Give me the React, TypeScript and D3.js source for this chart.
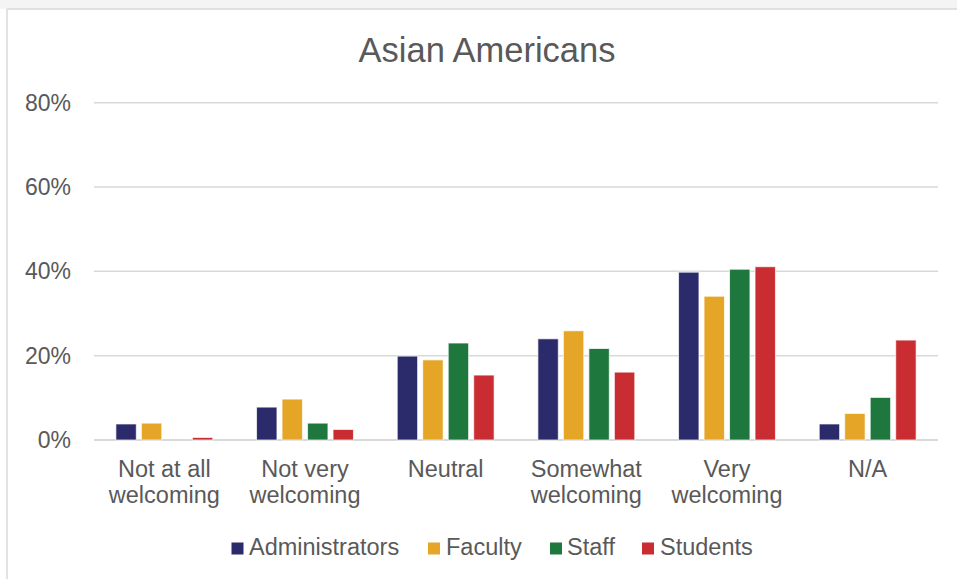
import React from "react";
import * as d3 from "d3";

const categories = ["Not at all|welcoming", "Not very|welcoming", "Neutral", "Somewhat|welcoming", "Very|welcoming", "N/A"];
const seriesNames = ["Administrators", "Faculty", "Staff", "Students"];
const administrators = [3.8, 7.8, 19.9, 24.0, 39.8, 3.8];
const faculty = [4.0, 9.7, 19.0, 25.9, 34.1, 6.3];
const staff = [0, 4.0, 23.0, 21.7, 40.5, 10.1];
const students = [0.6, 2.5, 15.4, 16.1, 41.1, 23.7];
const yTicks = [0, 20, 40, 60, 80];
const title = "Asian Americans";

const colors = ["#2b2a6b", "#e5a526", "#1e773d", "#c92d31"];
const seriesValues = [administrators, faculty, staff, students];

const W = 957;
const H = 579;
const FONT = "'Liberation Sans', Arial, sans-serif";
const TEXT = "#595959";

export default function App() {
  const x0 = d3.scaleBand<string>().domain(categories).range([94, 938]).paddingInner(0.275).paddingOuter(0.1375);
  const x1 = d3.scaleBand<string>().domain(seriesNames).range([0, x0.bandwidth()]).paddingInner(0.2).paddingOuter(0.1);
  const y = d3.scaleLinear().domain([0, 80]).range([440, 102.7]);

  const legendItems = [
    { x: 231.5, tx: 249 },
    { x: 428, tx: 446 },
    { x: 550, tx: 567 },
    { x: 642, tx: 660 },
  ];

  return (
    <svg width={W} height={H} style={{ position: "absolute", left: 0, top: 0, background: "#fff" }} fontFamily={FONT}>
      <rect x={0} y={0} width={W} height={9} fill="#f4f4f4" />
      <line x1={7} y1={9} x2={W} y2={9} stroke="#d9d9d9" strokeWidth={1.5} />
      <line x1={7} y1={9} x2={7} y2={H} stroke="#d9d9d9" strokeWidth={1.5} />

      <text x={487} y={61.5} textAnchor="middle" fontSize={34.5} fill={TEXT}>{title}</text>

      {yTicks.map((t) => (
        <g key={t}>
          <line x1={94} x2={938} y1={y(t)} y2={y(t)} stroke="#d9d9d9" strokeWidth={t === 0 ? 2 : 1.5} />
          <text x={71} y={y(t) + 8} textAnchor="end" fontSize={23} fill={TEXT}>{t}%</text>
        </g>
      ))}

      {categories.map((c, ci) => (
        <g key={c} transform={`translate(${x0(c)},0)`}>
          {seriesNames.map((s, si) => {
            const v = seriesValues[si][ci];
            if (v <= 0) return null;
            return (
              <rect
                key={s}
                x={x1(s)}
                y={y(v)}
                width={x1.bandwidth()}
                height={y(0) - y(v)}
                fill={colors[si]}
                stroke="#ffffff"
                strokeOpacity={0.7}
                strokeWidth={1}
              />
            );
          })}
          {c.split("|").map((line, li) => (
            <text key={li} x={x0.bandwidth() / 2} y={477 + li * 25.5} textAnchor="middle" fontSize={23.5} fill={TEXT}>
              {line}
            </text>
          ))}
        </g>
      ))}

      {seriesNames.map((s, i) => (
        <g key={s}>
          <rect x={legendItems[i].x} y={542.5} width={12} height={12} fill={colors[i]} />
          <text x={legendItems[i].tx} y={555} fontSize={23.5} fill={TEXT}>{s}</text>
        </g>
      ))}
    </svg>
  );
}
